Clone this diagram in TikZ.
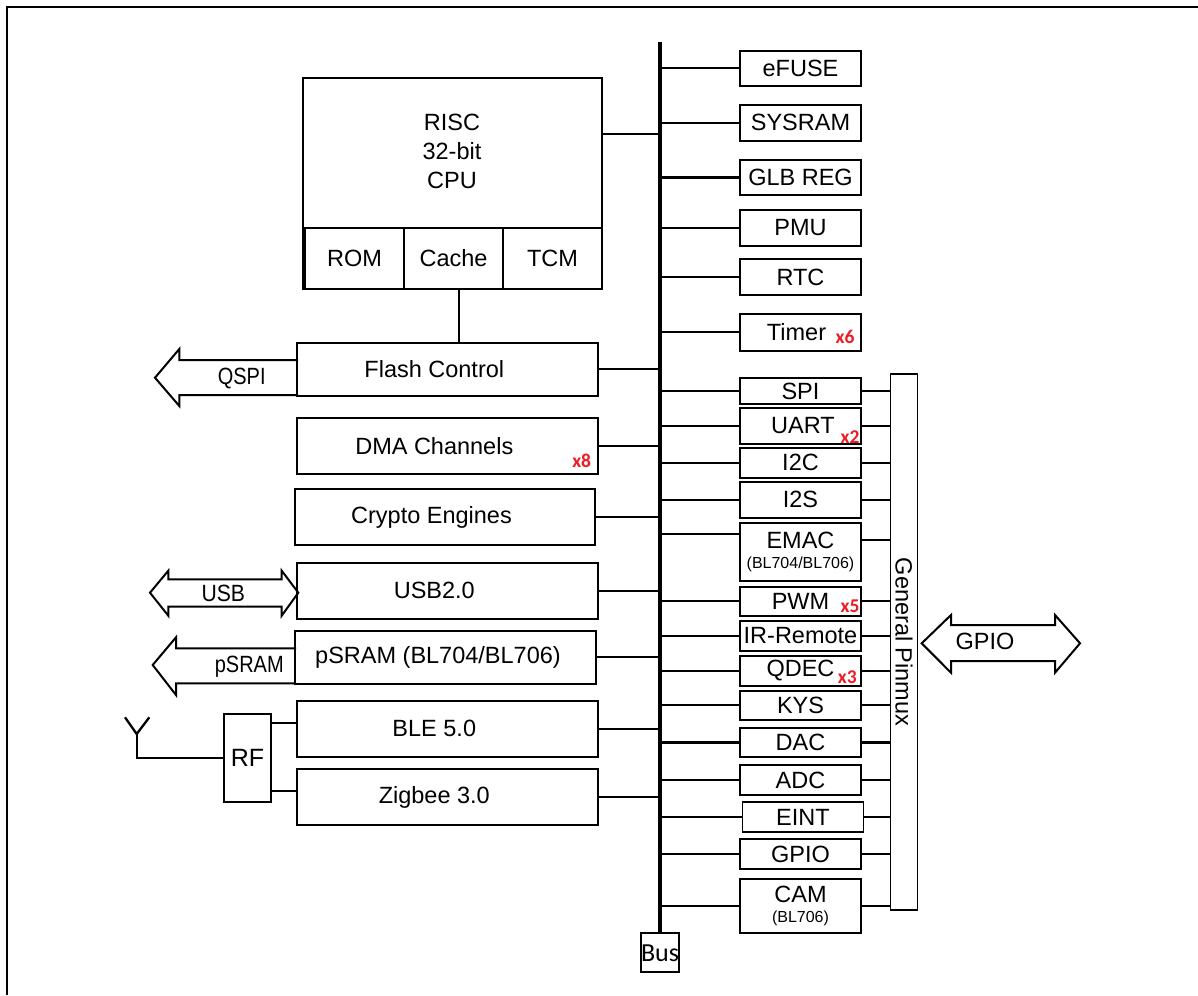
\documentclass[tikz,border=0pt]{standalone}
\usepackage{fontspec}
\setmainfont{Liberation Sans}
\newfontfamily\calfont{Carlito}
\definecolor{xred}{RGB}{237,28,36}
\begin{document}
\begin{tikzpicture}[x=1pt,y=-1pt,
  box/.style={draw, line width=1.8pt, inner sep=0pt, font=\fontsize{23.5}{28}\selectfont},
  lbox/.style={box, minimum width=301pt, execute at begin node={\hspace*{-27pt}}},
  rbox/.style={box, minimum width=121pt},
  conn/.style={line width=2.3pt},
  xlab/.style={text=xred, font=\calfont\bfseries\fontsize{19.5}{19.5}\selectfont, inner sep=0pt},
  fat/.style={line width=2pt, line join=miter},
  lab/.style={font=\fontsize{23.5}{28}\selectfont, inner sep=0pt}
]
\useasboundingbox (0,0) rectangle (1198,995);
% frame
\draw[line width=2pt] (7,995) -- (7,7.5) -- (1198,7.5);

% bus
\coordinate (bustop) at (660,41.7);
\node[draw, line width=1.8pt, minimum width=38.6pt, minimum height=39pt, inner sep=0pt,
      font=\calfont\fontsize{26}{26}\selectfont] (bus) at (660,952.8) {Bus};
\draw[line width=3.5pt] (bustop) -- (bus.north);

% CPU
\node[box, minimum width=299pt, minimum height=211pt] (cpu) at (452.5,183.5) {};
\node[lab, align=center, font=\fontsize{23.5}{29}\selectfont] (cputext) at (452,151) {RISC\\32-bit\\CPU};
\node[box, minimum width=99pt, minimum height=61pt] (rom) at (354.5,258.5) {ROM};
\node[box, minimum width=99pt, minimum height=61pt] (cache) at (453.5,258.5) {Cache};
\node[box, minimum width=99pt, minimum height=61pt] (tcm) at (552.5,258.5) {TCM};
\draw[conn] ([yshift=49.5pt]cpu.east) -- ([yshift=49.5pt]cpu.east -| bustop);

% left boxes
\node[lbox, minimum height=53pt] (flash) at (447.8,369.2) {Flash Control};
\node[lbox, minimum height=56.3pt] (dma) at (447.8,445.8) {DMA Channels};
\node[lbox, minimum width=300pt, minimum height=56pt] (crypto) at (445,517) {Crypto Engines};
\node[lbox, minimum height=56.3pt] (usb) at (447.8,590.8) {USB2.0};
\node[lbox, minimum height=53.3pt] (psram) at (445.5,657.3) {\hspace*{12pt}pSRAM (BL704/BL706)};
\node[lbox, minimum height=56pt] (ble) at (447.8,728.7) {BLE 5.0};
\node[lbox, minimum height=56pt] (zigbee) at (447.8,797) {Zigbee 3.0};
\node[xlab] (x8) at (581.7,460.7) {x8};

\draw[conn] ([xshift=5.5pt]cache.south) -- ([xshift=5.5pt]cache.south |- flash.north);
\foreach \n in {flash,dma,crypto,usb,psram,ble,zigbee}
  \draw[conn] (\n.east) -- (\n.east -| bustop);

% external arrows
\draw[fat] (298,360) -- (179.3,360) -- (179.3,349) -- (155,377.7) -- (179.3,406) -- (179.3,395) -- (298,395);
\node[lab] (qspilab) at (241.7,378.3) {\scalebox{0.85}[1]{QSPI}};
\draw[fat] (150,592.7) -- (168.3,570.7) -- (168.3,579.3) -- (281.7,579.3) -- (281.7,570.7) -- (298.3,592.7)
  -- (281.7,615.7) -- (281.7,606.7) -- (168.3,606.7) -- (168.3,615.7) -- cycle;
\node[lab] (usblab) at (223.3,593.3) {\scalebox{0.9}[1]{USB}};
\draw[fat] (296,648.3) -- (176,648.3) -- (176,637.3) -- (152.7,665) -- (176,695) -- (176,683.3) -- (296,683.3);
\node[lab] (psramlab) at (249.3,666.7) {\scalebox{0.85}[1]{pSRAM}};

% RF and antenna
\node[box, minimum width=47pt, minimum height=87.7pt, font=\fontsize{25}{28}\selectfont] (rf) at (247.5,757.8) {RF};
\draw[conn] ([yshift=35.1pt]rf.east) -- ([yshift=35.1pt]rf.east -| ble.west);
\draw[conn] ([yshift=-32.9pt]rf.east) -- ([yshift=-32.9pt]rf.east -| zigbee.west);
\coordinate (ant) at (136.7,734);
\coordinate (antl) at (125,717.3);
\coordinate (antr) at (149.3,717.3);
\draw[conn] (rf.west) -- (rf.west -| ant) -- (ant);
\draw[conn] (antl) -- (ant) -- (antr);

% right column
\node[rbox, minimum height=35.3pt] (efuse) at (800.5,68.3) {eFUSE};
\node[rbox, minimum height=35.7pt] (sysram) at (800.5,122.8) {SYSRAM};
\node[rbox, minimum height=35pt] (glb) at (800.5,177.5) {GLB REG};
\node[rbox, minimum height=36pt] (pmu) at (800.5,228) {PMU};
\node[rbox, minimum height=36pt] (rtc) at (800.5,277) {RTC};
\node[rbox, minimum height=36.7pt] (timer) at (800.5,332.3) {\hspace*{-8pt}Timer};
\node[rbox, minimum height=25.7pt] (spi) at (800.5,391.2) {SPI};
\node[rbox, minimum height=36.3pt] (uart) at (800.5,425.8) {\hspace*{5pt}UART};
\node[rbox, minimum height=30pt] (i2c) at (800.5,462.7) {I2C};
\node[rbox, minimum height=35.7pt] (i2s) at (800.5,499.8) {I2S};
\node[rbox, minimum height=58pt, align=center] (emac) at (800.5,551.7) {EMAC\\[-8pt]{\fontsize{16}{18}\selectfont (BL704/BL706)}};
\node[rbox, minimum height=29.3pt] (pwm) at (800.5,601.3) {PWM};
\node[rbox, minimum height=30.3pt] (ir) at (800.5,635.8) {IR-Remote};
\node[rbox, minimum height=30pt] (qdec) at (800.5,670.7) {QDEC};
\node[rbox, minimum height=29.3pt] (kys) at (800.5,705.3) {KYS};
\node[rbox, minimum height=29.7pt] (dac) at (800.5,742.5) {DAC};
\node[rbox, minimum height=30pt] (adc) at (800.5,780) {ADC};
\node[rbox, minimum height=30pt] (eint) at (803,817.3) {EINT};
\node[rbox, minimum height=30pt] (gpio) at (800.5,854.3) {GPIO};
\node[rbox, minimum height=53.7pt, align=center] (cam) at (800.5,905.8) {CAM\\[-7.5pt]{\fontsize{16}{18}\selectfont (BL706)}};

\node[xlab] (x6) at (845,337.3) {x6};
\node[xlab] (x2) at (850,436.7) {x2};
\node[xlab] (x5) at (850,606.7) {x5};
\node[xlab] (x3) at (847.3,676.7) {x3};

% pinmux
\node[draw, line width=1.4pt, minimum width=26.6pt, minimum height=536pt, inner sep=0pt] (pinmux) at (904,642) {};
\node[lab, rotate=-90] (pinmuxtext) at (pinmux.center) {General Pinmux};

\foreach \n in {efuse,sysram,glb,pmu,rtc,timer,spi,uart,i2c,i2s,pwm,ir,qdec,kys,dac,adc,eint,gpio,cam}
  \draw[conn] (\n.west -| bustop) -- (\n.west);
\draw[conn] ([yshift=17.7pt]emac.west -| bustop) -- ([yshift=17.7pt]emac.west);
\foreach \n in {spi,uart,i2c,i2s,pwm,ir,qdec,kys,dac,adc,eint,gpio,cam}
  \draw[conn] (\n.east) -- (\n.east -| pinmux.west);
\draw[conn] ([yshift=11.7pt]emac.east) -- ([yshift=11.7pt]emac.east -| pinmux.west);

% GPIO arrow
\draw[fat] (921.7,643.3) -- (951,615) -- (951,625) -- (1055,625) -- (1055,615) -- (1080,643.3)
  -- (1055,672.7) -- (1055,661) -- (951,661) -- (951,672.7) -- cycle;
\node[lab] (gpiolab) at (985,641.7) {GPIO};
\end{tikzpicture}
\end{document}
